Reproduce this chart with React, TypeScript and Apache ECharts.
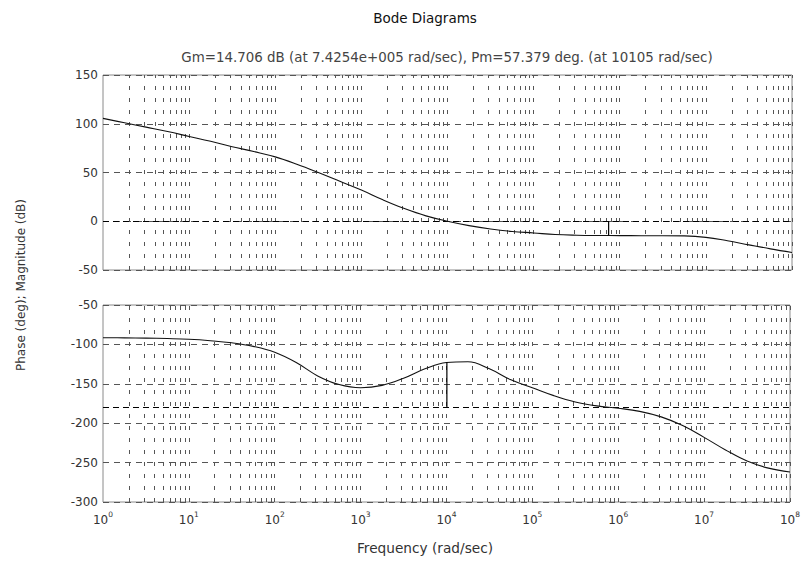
import React, { useEffect, useRef } from "react";
import * as echarts from "echarts";

// frequency grid (rad/sec), quarter-decade samples of the curves
const freqs = [
  1, 1.778, 3.162, 5.623, 10, 17.78, 31.62, 56.23, 100, 177.8, 316.2, 562.3,
  1000, 1778, 3162, 5623, 10000, 17780, 31620, 56230, 100000, 177800, 316200,
  562300, 1000000, 1778000, 3162000, 5623000, 10000000, 17780000, 31620000,
  56230000, 100000000,
];
// magnitude (dB)
const magDb = [
  105.5, 101, 96.5, 92, 87, 82, 76.5, 71.5, 66, 58.5, 50, 41,
  32, 22, 13, 5.5, 0, -4.5, -8, -10.5, -12, -13.6, -14.3,
  -14.6, -14.7, -14.8, -14.8, -15, -16.5, -20, -24.2,
  -28.3, -32,
];
// phase (deg)
const phaseDeg = [
  -91.5, -91.7, -92, -92.6, -93.5, -95.3, -98, -102.5, -110, -123, -140, -151,
  -155, -152, -143, -131, -123, -122, -131, -145, -155, -165, -173,
  -178, -181, -185, -192, -203, -218, -234, -248,
  -257, -262,
];

const decadeTicks = [1, 10, 100, 1000, 10000, 100000, 1000000, 10000000, 100000000];
const minorMultipliers = [2, 3, 4, 5, 6, 7, 8, 9];
const magTicks = [-50, 0, 50, 100, 150];
const phaseTicks = [-300, -250, -200, -150, -100, -50];

const gmFreq = 742540; // 7.4254e+005 rad/sec
const gmDb = 14.706;
const pmFreq = 10105;
const pmDeg = 57.379;

const titleText = "Bode Diagrams";
const subtitleText =
  "Gm=14.706 dB (at 7.4254e+005 rad/sec), Pm=57.379 deg. (at 10105 rad/sec)";
const yLabel = "Phase (deg); Magnitude (dB)";
const xLabel = "Frequency (rad/sec)";

const FONT = "DejaVu Sans, Verdana, sans-serif";

export default function App() {
  const ref = useRef<HTMLDivElement>(null);

  useEffect(() => {
    document.body.style.margin = "0";
    if (!ref.current) return;
    const chart = echarts.init(ref.current, null, { renderer: "svg" });

    const verticalLines: number[] = [];
    decadeTicks.forEach((d, i) => {
      if (i > 0) verticalLines.push(d);
      if (i < decadeTicks.length - 1) minorMultipliers.forEach((m) => verticalLines.push(d * m));
    });
    const vData = verticalLines.map((v) => ({ xAxis: v }));

    const vGridMarkLine = {
      silent: true,
      symbol: ["none", "none"],
      z: 1,
      label: { show: false },
      lineStyle: { color: "#555", type: [4, 8], width: 1 },
      data: vData,
    };

    const magData = freqs.map((f, i) => [f, magDb[i]]);
    const phaseData = freqs.map((f, i) => [f, phaseDeg[i]]);

    const xAxisBase = {
      type: "log",
      logBase: 10,
      min: 1,
      max: 100000000,
      splitNumber: 8,
      axisLine: { show: false },
      axisTick: { show: false },
      splitLine: { show: false },
      minorSplitLine: { show: false },
    };

    const yAxisBase = {
      type: "value",
      interval: 50,
      axisLine: { show: false },
      axisTick: { show: false },
      axisLabel: { color: "#333", fontSize: 12, fontFamily: FONT, margin: 5 },
      splitLine: { show: true, lineStyle: { color: "#555", type: [6, 5], width: 1 } },
    };

    chart.setOption({
      animation: false,
      backgroundColor: "#fff",
      grid: [
        { left: 103, top: 75, width: 689, height: 195, show: true, borderColor: "#8a8a8a", borderWidth: 1, backgroundColor: "transparent" },
        { left: 103, top: 305, width: 689, height: 197, show: true, borderColor: "#8a8a8a", borderWidth: 1, backgroundColor: "transparent" },
      ],
      xAxis: [
        { ...xAxisBase, gridIndex: 0, axisLabel: { show: false } },
        {
          ...xAxisBase,
          gridIndex: 1,
          axisLabel: {
            show: true,
            customValues: decadeTicks,
            margin: 8,
            formatter: (v: number) => `{b|10}{s|${Math.round(Math.log10(v))}}`,
            rich: {
              b: { fontSize: 12, color: "#333", fontFamily: FONT, verticalAlign: "bottom", lineHeight: 16 },
              s: { fontSize: 7.5, color: "#333", fontFamily: FONT, verticalAlign: "top", lineHeight: 16 },
            },
          },
        },
      ],
      yAxis: [
        { ...yAxisBase, gridIndex: 0, min: magTicks[0], max: magTicks[magTicks.length - 1] },
        { ...yAxisBase, gridIndex: 1, min: phaseTicks[0], max: phaseTicks[phaseTicks.length - 1] },
      ],
      series: [
        {
          type: "line",
          xAxisIndex: 0,
          yAxisIndex: 0,
          data: magData,
          smooth: 0.4,
          showSymbol: false,
          z: 3,
          lineStyle: { color: "#111", width: 1.1 },
          markLine: vGridMarkLine,
        },
        {
          type: "line",
          xAxisIndex: 0,
          yAxisIndex: 0,
          data: [],
          z: 2,
          markLine: {
            silent: true,
            symbol: ["none", "none"],
            z: 2,
            label: { show: false },
            lineStyle: { color: "#000", type: [6, 4], width: 1 },
            data: [{ yAxis: 0 }],
          },
        },
        {
          type: "line",
          xAxisIndex: 0,
          yAxisIndex: 0,
          data: [
            [gmFreq, 0],
            [gmFreq, -gmDb],
          ],
          showSymbol: false,
          z: 4,
          lineStyle: { color: "#000", width: 1.2 },
        },
        {
          type: "line",
          xAxisIndex: 1,
          yAxisIndex: 1,
          data: phaseData,
          smooth: 0.4,
          showSymbol: false,
          z: 3,
          lineStyle: { color: "#111", width: 1.1 },
          markLine: vGridMarkLine,
        },
        {
          type: "line",
          xAxisIndex: 1,
          yAxisIndex: 1,
          data: [],
          z: 2,
          markLine: {
            silent: true,
            symbol: ["none", "none"],
            z: 2,
            label: { show: false },
            lineStyle: { color: "#000", type: [6, 4], width: 1 },
            data: [{ yAxis: -180 }],
          },
        },
        {
          type: "line",
          xAxisIndex: 1,
          yAxisIndex: 1,
          data: [
            [pmFreq, -180],
            [pmFreq, -180 + pmDeg],
          ],
          showSymbol: false,
          z: 4,
          lineStyle: { color: "#000", width: 1.2 },
        },
      ],
      graphic: [
        {
          type: "text",
          x: 425,
          y: 18,
          style: { text: titleText, fontSize: 13.5, fontFamily: FONT, fill: "#111", align: "center", verticalAlign: "middle" },
        },
        {
          type: "text",
          x: 447,
          y: 57,
          style: { text: subtitleText, fontSize: 13.4, fontFamily: FONT, fill: "#444", align: "center", verticalAlign: "middle" },
        },
        {
          type: "text",
          x: 21,
          y: 285,
          rotation: Math.PI / 2,
          style: { text: yLabel, fontSize: 12, fontFamily: FONT, fill: "#333", align: "center", verticalAlign: "middle" },
        },
        {
          type: "text",
          x: 425,
          y: 548,
          style: { text: xLabel, fontSize: 13.7, fontFamily: FONT, fill: "#333", align: "center", verticalAlign: "middle" },
        },
      ],
    });

    return () => chart.dispose();
  }, []);

  return <div ref={ref} style={{ width: 803, height: 565 }} />;
}
